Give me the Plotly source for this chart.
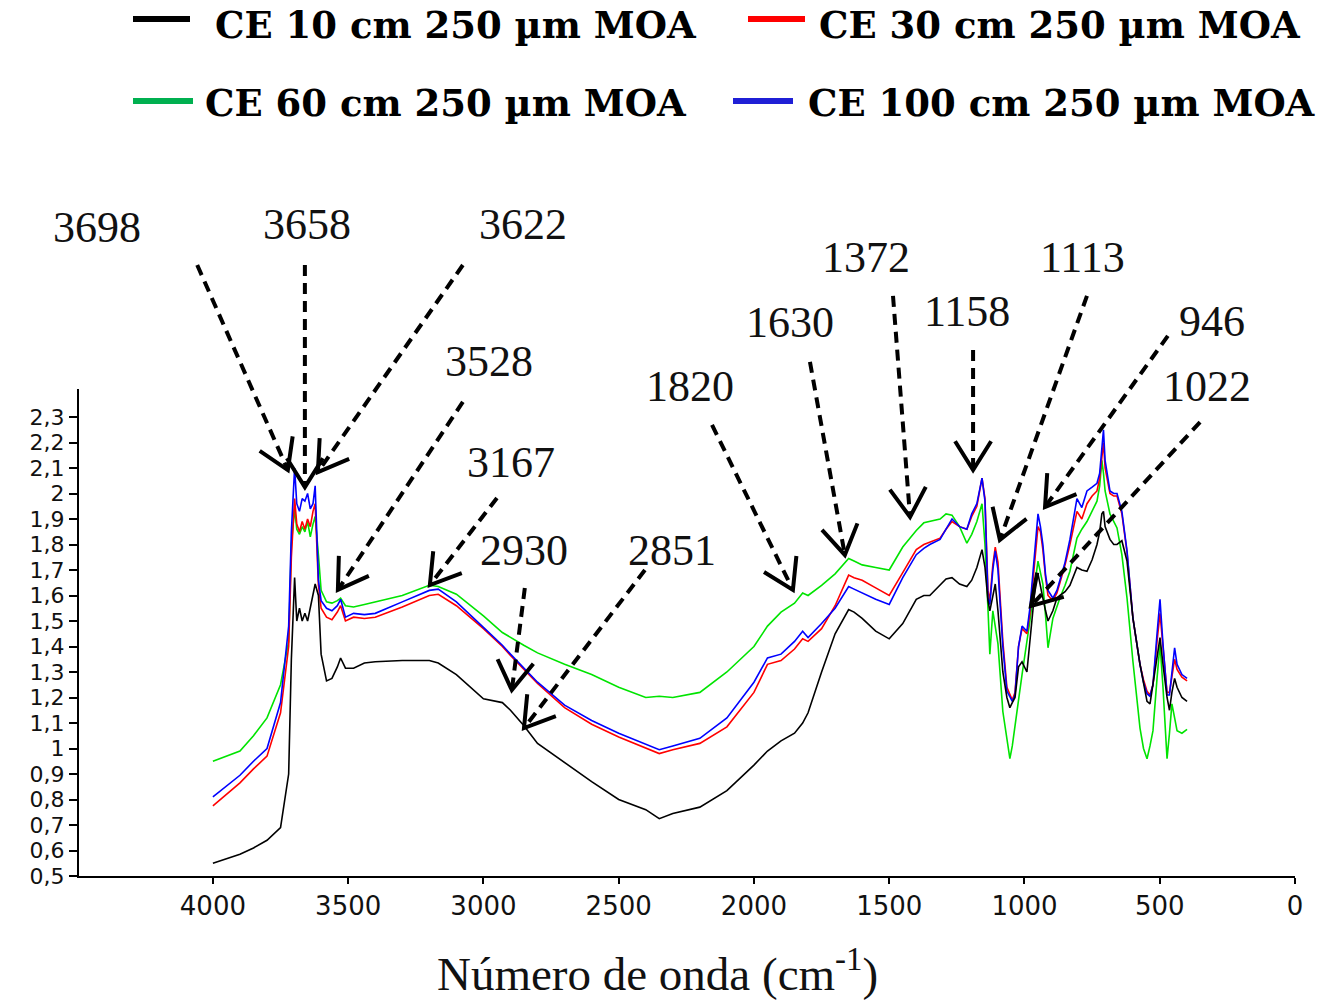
import math
import plotly.graph_objects as go

# ---------------------------------------------------------------- data
# FTIR spectra (absorbance) on a shared wavenumber grid, cm-1
wavenumber = [
    4000, 3900, 3850, 3800, 3750, 3720, 3710, 3698, 3690, 3680,
    3670, 3660, 3650, 3640, 3630, 3622, 3610, 3600, 3580, 3560,
    3540, 3528, 3510, 3480, 3440, 3400, 3300, 3200, 3167, 3100,
    3000, 2930, 2900, 2851, 2800, 2700, 2600, 2500, 2400, 2350,
    2300, 2200, 2100, 2000, 1950, 1900, 1850, 1820, 1800, 1750,
    1700, 1650, 1630, 1600, 1550, 1500, 1450, 1400, 1372, 1350,
    1312, 1290, 1268, 1240, 1213, 1195, 1176, 1157, 1146, 1135,
    1128, 1117, 1108, 1098, 1080, 1065, 1054, 1045, 1035, 1022,
    1009, 991, 980, 969, 958, 950, 941, 932, 922, 913,
    895, 880, 869, 850, 832, 806, 788, 769, 750, 732,
    722, 714, 708, 702, 684, 670, 658, 640, 621, 599,
    573, 560, 547, 536, 525, 510, 499, 488, 473, 464,
    455, 445, 436, 418, 399,
]

ce_10cm = [
    0.55, 0.585, 0.61, 0.64, 0.69, 0.90, 1.35, 1.67, 1.50, 1.55,
    1.50, 1.53, 1.50, 1.55, 1.60, 1.645, 1.60, 1.37, 1.265, 1.275,
    1.32, 1.355, 1.315, 1.315, 1.335, 1.34, 1.345, 1.345, 1.335, 1.29,
    1.195, 1.18, 1.15, 1.09, 1.02, 0.945, 0.87, 0.80, 0.76, 0.725,
    0.745, 0.77, 0.835, 0.935, 0.99, 1.03, 1.06, 1.10, 1.14, 1.30,
    1.45, 1.545, 1.535, 1.51, 1.46, 1.43, 1.49, 1.585, 1.60, 1.60,
    1.64, 1.665, 1.67, 1.645, 1.635, 1.66, 1.71, 1.78, 1.71, 1.58,
    1.54, 1.60, 1.645, 1.54, 1.30, 1.20, 1.16, 1.18, 1.20, 1.32,
    1.34, 1.30, 1.42, 1.55, 1.66, 1.685, 1.63, 1.59, 1.54, 1.50,
    1.54, 1.59, 1.60, 1.615, 1.64, 1.71, 1.70, 1.695, 1.74, 1.80,
    1.85, 1.92, 1.93, 1.87, 1.82, 1.80, 1.80, 1.815, 1.735, 1.51,
    1.33, 1.25, 1.185, 1.175, 1.25, 1.36, 1.435, 1.33, 1.20, 1.15,
    1.22, 1.275, 1.24, 1.20, 1.185,
]

ce_30cm = [
    0.775, 0.865, 0.92, 0.97, 1.14, 1.40, 1.75, 1.98, 1.88, 1.85,
    1.89, 1.86, 1.90, 1.87, 1.93, 1.96, 1.64, 1.55, 1.515, 1.505,
    1.535, 1.56, 1.50, 1.515, 1.51, 1.515, 1.555, 1.60, 1.605, 1.56,
    1.47, 1.40, 1.365, 1.31, 1.255, 1.16, 1.095, 1.045, 1.00, 0.98,
    0.995, 1.02, 1.085, 1.22, 1.33, 1.345, 1.39, 1.43, 1.42, 1.47,
    1.56, 1.68, 1.67, 1.66, 1.63, 1.60, 1.69, 1.78, 1.80, 1.81,
    1.825, 1.86, 1.89, 1.87, 1.86, 1.91, 1.95, 2.06, 1.98, 1.62,
    1.58, 1.72, 1.79, 1.73, 1.42, 1.24, 1.21, 1.19, 1.22, 1.40,
    1.47, 1.45, 1.53, 1.66, 1.78, 1.87, 1.85, 1.78, 1.67, 1.60,
    1.58, 1.61, 1.65, 1.72, 1.80, 1.93, 1.90, 1.96, 1.99, 2.01,
    2.06, 2.14, 2.20, 2.10, 2.00, 1.99, 1.99, 1.92, 1.77, 1.51,
    1.33, 1.27, 1.225, 1.21, 1.25, 1.42, 1.53, 1.40, 1.22, 1.22,
    1.29, 1.35, 1.31, 1.28, 1.265,
]

ce_60cm = [
    0.95, 0.99, 1.05, 1.12, 1.25, 1.42, 1.80, 1.94, 1.86, 1.84,
    1.87, 1.85, 1.89, 1.83, 1.88, 1.91, 1.76, 1.62, 1.575, 1.57,
    1.58, 1.59, 1.56, 1.555, 1.565, 1.575, 1.60, 1.64, 1.635, 1.605,
    1.52, 1.455, 1.435, 1.405, 1.375, 1.33, 1.29, 1.24, 1.20, 1.205,
    1.20, 1.22, 1.30, 1.40, 1.48, 1.535, 1.57, 1.61, 1.60, 1.64,
    1.685, 1.745, 1.735, 1.72, 1.71, 1.70, 1.79, 1.855, 1.885, 1.89,
    1.90, 1.92, 1.915, 1.87, 1.805, 1.84, 1.89, 1.96, 1.80, 1.55,
    1.37, 1.54, 1.47, 1.41, 1.145, 1.04, 0.96, 1.01, 1.08, 1.19,
    1.29, 1.41, 1.50, 1.59, 1.68, 1.735, 1.69, 1.645, 1.52, 1.395,
    1.51, 1.56, 1.59, 1.64, 1.695, 1.825, 1.86, 1.89, 1.93, 1.97,
    2.03, 2.13, 2.08, 2.01, 1.92, 1.89, 1.865, 1.76, 1.59, 1.34,
    1.08, 1.00, 0.96, 1.01, 1.07, 1.275, 1.41, 1.24, 0.96, 1.06,
    1.175, 1.12, 1.07, 1.06, 1.075,
]

ce_100cm = [
    0.81, 0.895, 0.95, 1.00, 1.18, 1.48, 1.85, 2.10, 1.96, 1.93,
    1.98, 1.97, 2.00, 1.94, 1.96, 2.03, 1.66, 1.58, 1.55, 1.54,
    1.56, 1.585, 1.515, 1.53, 1.525, 1.53, 1.575, 1.62, 1.625, 1.575,
    1.475, 1.405, 1.37, 1.315, 1.26, 1.17, 1.11, 1.06, 1.015, 0.995,
    1.01, 1.04, 1.12, 1.26, 1.355, 1.37, 1.42, 1.46, 1.435, 1.49,
    1.55, 1.635, 1.625, 1.61, 1.585, 1.565, 1.67, 1.76, 1.785, 1.80,
    1.82, 1.86, 1.90, 1.87, 1.86, 1.92, 1.96, 2.06, 1.97, 1.59,
    1.565, 1.70, 1.775, 1.70, 1.40, 1.225, 1.20, 1.185, 1.21, 1.40,
    1.48, 1.46, 1.55, 1.68, 1.80, 1.92, 1.87, 1.80, 1.68, 1.62,
    1.59, 1.62, 1.66, 1.73, 1.82, 1.98, 1.945, 2.01, 2.025, 2.04,
    2.08, 2.18, 2.25, 2.13, 2.01, 2.00, 2.00, 1.93, 1.775, 1.51,
    1.33, 1.26, 1.215, 1.205, 1.25, 1.45, 1.585, 1.41, 1.21, 1.21,
    1.30, 1.395, 1.33, 1.29, 1.275,
]

series_names = [
    "CE 10 cm 250 µm MOA",
    "CE 30 cm 250 µm MOA",
    "CE 60 cm 250 µm MOA",
    "CE 100 cm 250 µm MOA",
]

x_tick_vals = [4000, 3500, 3000, 2500, 2000, 1500, 1000, 500, 0]
x_tick_text = ["4000", "3500", "3000", "2500", "2000", "1500", "1000", "500", "0"]
y_tick_vals = [0.5, 0.6, 0.7, 0.8, 0.9, 1.0, 1.1, 1.2, 1.3, 1.4,
               1.5, 1.6, 1.7, 1.8, 1.9, 2.0, 2.1, 2.2, 2.3]
y_tick_text = ["0,5", "0,6", "0,7", "0,8", "0,9", "1", "1,1", "1,2", "1,3", "1,4",
               "1,5", "1,6", "1,7", "1,8", "1,9", "2", "2,1", "2,2", "2,3"]

# band labels: text, label centre, dashed-line start, arrow tip
# (all given as (wavenumber, absorbance))
bands = [
    ("3698", (4429, 3.045), (4058, 2.896), (3723, 2.092)),
    ("3658", (3653, 3.053), (3660, 2.896), (3660, 2.025)),
    ("3622", (2854, 3.053), (3076, 2.896), (3612, 2.084)),
    ("3528", (2980, 2.516), (3076, 2.359), (3538, 1.622)),
    ("3167", (2898, 2.120), (2950, 1.982), (3198, 1.641)),
    ("2930", (2850, 1.778), (2847, 1.629), (2895, 1.229)),
    ("2851", (2303, 1.778), (2403, 1.700), (2850, 1.080)),
    ("1820", (2237, 2.418), (2155, 2.269), (1856, 1.622)),
    ("1630", (1867, 2.669), (1793, 2.516), (1664, 1.759)),
    ("1372", (1586, 2.927), (1486, 2.775), (1423, 1.908)),
    ("1158", (1213, 2.712), (1190, 2.563), (1190, 2.092)),
    ("1113", (784, 2.927), (769, 2.775), (1091, 1.818)),
    ("946", (307, 2.673), (470, 2.618), (924, 1.947)),
    ("1022", (325, 2.418), (351, 2.280), (976, 1.559)),
]

# ---------------------------------------------------------------- geometry
FIG_W, FIG_H = 1319, 1004
M_L, M_R, M_T, M_B = 79, 24, 389, 128
PLOT_W = FIG_W - M_L - M_R
PLOT_H = FIG_H - M_T - M_B
X_RANGE = (4495, 0)
Y_RANGE = (0.5, 0.5 + PLOT_H / 255.0)


def to_px(wn, ab):
    fx = (X_RANGE[0] - wn) / (X_RANGE[0] - X_RANGE[1])
    fy = (ab - Y_RANGE[0]) / (Y_RANGE[1] - Y_RANGE[0])
    return M_L + fx * PLOT_W, M_T + (1 - fy) * PLOT_H


def px_to_paper(x, y):
    return (x - M_L) / PLOT_W, (M_T + PLOT_H - y) / PLOT_H


# ---------------------------------------------------------------- figure
fig = go.Figure()

line_colors = {
    "CE 10 cm 250 µm MOA": "#000000",
    "CE 30 cm 250 µm MOA": "#ff0000",
    "CE 60 cm 250 µm MOA": "#00e400",
    "CE 100 cm 250 µm MOA": "#0000ff",
}
series_values = dict(zip(series_names, [ce_10cm, ce_30cm, ce_60cm, ce_100cm]))
draw_order = [series_names[2], series_names[1], series_names[3], series_names[0]]
for name in draw_order:
    fig.add_trace(go.Scatter(
        x=wavenumber, y=series_values[name], mode="lines", name=name,
        line=dict(color=line_colors[name], width=1.6),
        showlegend=False, hoverinfo="x+y+name",
    ))

shapes = []
annotations = []

# dashed callout arrows with open V heads
ARM_LEN = 34
ARM_ANGLE = math.radians(32)
for text, lab, tail, tip in bands:
    sx, sy = to_px(*tail)
    tx, ty = to_px(*tip)
    p0 = px_to_paper(sx, sy)
    p1 = px_to_paper(tx, ty)
    shapes.append(dict(type="line", xref="paper", yref="paper",
                       x0=p0[0], y0=p0[1], x1=p1[0], y1=p1[1],
                       line=dict(color="black", width=4, dash="11px,7px")))
    dx, dy = sx - tx, sy - ty
    d = math.hypot(dx, dy)
    ux, uy = dx / d, dy / d
    arms = []
    for sgn in (1, -1):
        a = sgn * ARM_ANGLE
        rx = ux * math.cos(a) - uy * math.sin(a)
        ry = ux * math.sin(a) + uy * math.cos(a)
        arms.append(px_to_paper(tx + ARM_LEN * rx, ty + ARM_LEN * ry))
    path = "M {:.5f},{:.5f} L {:.5f},{:.5f} L {:.5f},{:.5f}".format(
        arms[0][0], arms[0][1], p1[0], p1[1], arms[1][0], arms[1][1])
    shapes.append(dict(type="path", xref="paper", yref="paper", path=path,
                       line=dict(color="black", width=4),
                       fillcolor="rgba(0,0,0,0)"))
    lx, ly = px_to_paper(*to_px(*lab))
    annotations.append(dict(x=lx, y=ly, xref="paper", yref="paper", text=text,
                            showarrow=False, xanchor="center", yanchor="middle",
                            font=dict(family="Liberation Serif, Times New Roman, serif",
                                      size=44, color="#111111")))

# legend block (two rows above the plot)
legend_colors = ["#000000", "#ff0000", "#00b050", "#1f1fd6"]
legend_layout = [  # sample x0, x1, y (px), text left x (px), text y (px)
    (133, 190, 19, 213, 25),
    (748, 805, 19, 817, 25),
    (133, 193, 101, 203, 103),
    (733, 793, 101, 806, 103),
]
for name, color, (x0, x1, ys, xt, yt) in zip(series_names, legend_colors, legend_layout):
    a = px_to_paper(x0, ys)
    b = px_to_paper(x1, ys)
    shapes.append(dict(type="line", xref="paper", yref="paper",
                       x0=a[0], y0=a[1], x1=b[0], y1=b[1],
                       line=dict(color=color, width=6)))
    t = px_to_paper(xt, yt)
    annotations.append(dict(x=t[0], y=t[1], xref="paper", yref="paper",
                            text="<b>" + name + "</b>", showarrow=False,
                            xanchor="left", yanchor="middle",
                            font=dict(family="DejaVu Serif, serif", size=37,
                                      color="#000000")))

# x axis title, anchored by its bottom edge so it stays inside the page
tx_, ty_ = px_to_paper(657, 1002)
annotations.append(dict(x=tx_, y=ty_, xref="paper", yref="paper",
                        text="Número de onda (cm<sup>-1</sup>)", showarrow=False,
                        xanchor="center", yanchor="bottom",
                        font=dict(family="Liberation Serif, Times New Roman, serif",
                                  size=47, color="#111111")))

fig.update_layout(
    width=FIG_W, height=FIG_H,
    margin=dict(l=M_L, r=M_R, t=M_T, b=M_B, pad=0),
    paper_bgcolor="white", plot_bgcolor="white",
    showlegend=False,
    shapes=shapes, annotations=annotations,
    xaxis=dict(
        range=list(X_RANGE), tickvals=x_tick_vals, ticktext=x_tick_text,
        showline=True, linecolor="black", linewidth=2,
        ticks="outside", ticklen=6, tickwidth=2, tickcolor="black",
        showgrid=False, zeroline=False,
        tickfont=dict(family="DejaVu Sans, Arial, sans-serif", size=26, color="#111111"),
    ),
    yaxis=dict(
        range=list(Y_RANGE), tickvals=y_tick_vals, ticktext=y_tick_text,
        showline=True, linecolor="black", linewidth=2,
        ticks="outside", ticklen=8, tickwidth=2, tickcolor="black",
        showgrid=False, zeroline=False,
        tickfont=dict(family="DejaVu Sans, Arial, sans-serif", size=22, color="#111111"),
    ),
)

fig.write_html("out.html")
